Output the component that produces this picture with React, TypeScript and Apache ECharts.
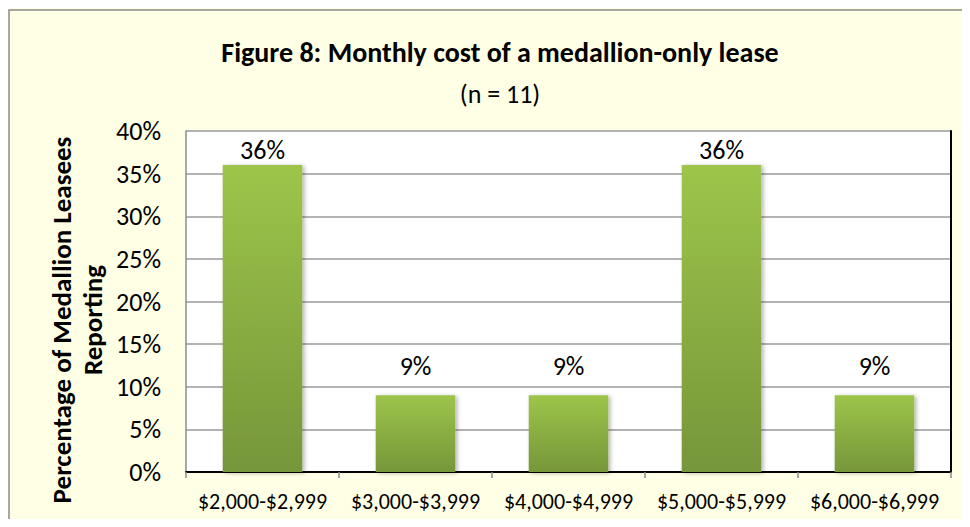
import React, { useEffect, useRef } from "react";
import * as echarts from "echarts";

const categories = ["$2,000-$2,999", "$3,000-$3,999", "$4,000-$4,999", "$5,000-$5,999", "$6,000-$6,999"];
const values = [36, 9, 9, 36, 9];
const yTicks = [0, 5, 10, 15, 20, 25, 30, 35, 40];
const yAxisTitle = "Percentage of Medallion Leasees\nReporting";

const FONT = "Carlito, Lato, 'Open Sans', sans-serif";

export default function App() {
  const ref = useRef<HTMLDivElement>(null);
  useEffect(() => {
    const chart = echarts.init(ref.current!, null, { renderer: "svg" });
    chart.setOption({
      animation: false,
      backgroundColor: "#FFFFE5",
      textStyle: { fontFamily: FONT },
      title: [
        {
          text: "Figure 8: Monthly cost of a medallion-only lease",
          left: 487,
          top: 25,
          textAlign: "center",
          textStyle: { fontSize: 28, fontWeight: "bold", color: "#000", fontFamily: FONT },
        },
        {
          text: "(n = 11)",
          left: 487,
          top: 68,
          textAlign: "center",
          textStyle: { fontSize: 26, fontWeight: "normal", color: "#000", fontFamily: FONT },
        },
      ],
      graphic: [
        {
          type: "rect",
          shape: { x: 1, y: 2, width: 1100, height: 600 },
          style: { fill: "none", stroke: "#8c8c8c", lineWidth: 1.5 },
          silent: true,
        },
        {
          type: "text",
          x: 69,
          y: 312,
          rotation: Math.PI / 2,
          style: {
            text: yAxisTitle,
            align: "center",
            verticalAlign: "middle",
            fontSize: 27,
            lineHeight: 31,
            fontWeight: "bold",
            fill: "#000",
            fontFamily: FONT,
          },
          silent: true,
        },
      ],
      grid: {
        left: 178,
        right: 11,
        top: 123,
        bottom: 47,
        show: true,
        backgroundColor: "#fff",
        borderWidth: 0,
      },
      xAxis: [
        {
          type: "category",
          data: categories,
          position: "bottom",
          axisLine: { lineStyle: { color: "#8c8c8c", width: 1.5 } },
          axisTick: { show: true, length: 6, lineStyle: { color: "#8c8c8c", width: 1.5 } },
          axisLabel: { fontSize: 22, color: "#000", margin: 18, fontFamily: FONT, interval: 0, hideOverlap: false },
        },
        {
          type: "category",
          data: categories,
          position: "top",
          axisLine: { lineStyle: { color: "#000", width: 2 } },
          axisTick: { show: false },
          axisLabel: { show: false },
        },
      ],
      yAxis: [
        {
          type: "value",
          min: 0,
          max: 40,
          interval: 5,
          axisLine: { show: true, lineStyle: { color: "#8c8c8c", width: 1.5 } },
          axisTick: { show: false },
          splitLine: { show: true, lineStyle: { color: "#9a9a9a", width: 1.5 } },
          axisLabel: {
            fontSize: 26,
            color: "#000",
            margin: 25,
            fontFamily: FONT,
            formatter: (v: number) => (yTicks.includes(v) ? v + "%" : ""),
          },
        },
        {
          type: "value",
          min: 0,
          max: 40,
          interval: 5,
          position: "right",
          axisLine: { show: true, lineStyle: { color: "#000", width: 2 } },
          axisTick: { show: false },
          axisLabel: { show: false },
          splitLine: { show: false },
        },
      ],
      series: [
        {
          type: "bar",
          // labels of tall bars are pushed down to stay inside the plot (as in the original)
          data: values.map((v) => ({ value: v, label: { distance: v > 30 ? 2 : 16 } })),
          barWidth: "52%",
          itemStyle: {
            color: new echarts.graphic.LinearGradient(0, 0, 0, 1, [
              { offset: 0, color: "#9DC54A" },
              { offset: 1, color: "#76963A" },
            ]),
            shadowColor: "rgba(0,0,0,0.3)",
            shadowBlur: 4,
            shadowOffsetX: 2,
            shadowOffsetY: 1,
          },
          label: {
            show: true,
            position: "top",
            formatter: "{c}%",
            fontSize: 26,
            color: "#000",
            fontFamily: FONT,
          },
        },
      ],
    });
    return () => chart.dispose();
  }, []);
  return <div ref={ref} style={{ width: 954, height: 511 }} />;
}
